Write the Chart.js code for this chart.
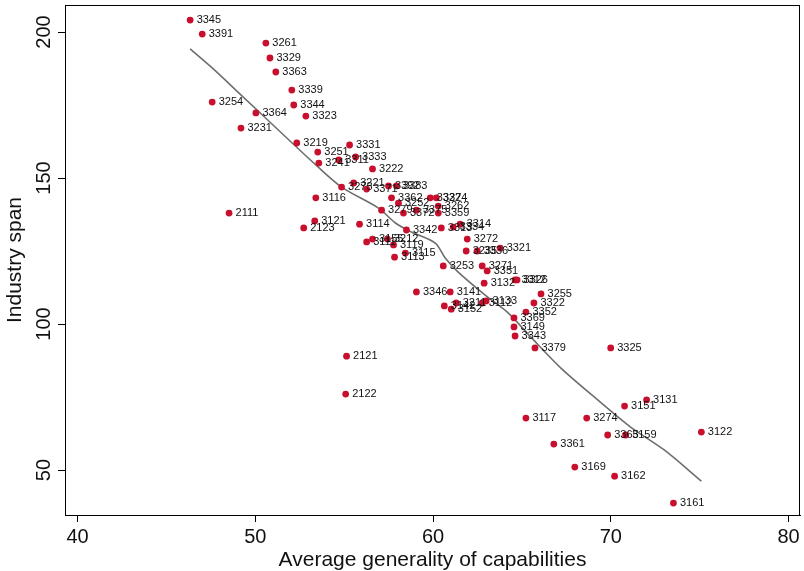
<!DOCTYPE html>
<html>
<head>
<meta charset="utf-8">
<script src="https://cdn.jsdelivr.net/npm/chart.js@4/dist/chart.umd.min.js"></script>
<style>
  html, body { margin: 0; padding: 0; background: #fff; }
  #wrap { width: 804px; height: 571px; }
</style>
</head>
<body>
<div id="wrap"><canvas id="c" width="804" height="571"></canvas></div>
<script>
// Industry codes (point labels)
const codes = ["3345","3391","3261","3329","3363","3339","3344","3323","3254","3364",
  "3231","3219","3331","3251","3333","3311","3241","3222","3221","3273",
  "3371","3392","3383","3116","3362","3252","3279","3372","3375","3327",
  "3324","3262","3359","2111","3121","2123","3114","3342","3313","3334",
  "3314","3272","3235","3336","3321","3111","3155","3212","3119","3115",
  "3113","3253","3271","3351","3132","3312","3326","3346","3141","3255",
  "3142","3211","3152","3112","3133","3322","3352","3369","3149","3343",
  "3379","3325","2121","2122","3131","3151","3117","3274","3365","3159",
  "3122","3361","3169","3162","3161"];
// Average generality of capabilities
const generality = [46.33,47.01,50.59,50.82,51.15,52.05,52.16,52.84,47.57,50.03,
  49.19,52.33,55.30,53.51,55.64,54.69,53.57,56.59,55.53,54.85,
  56.26,57.49,57.94,53.40,57.66,58.05,57.10,58.33,59.06,59.84,
  60.18,60.29,60.29,48.52,53.34,52.72,55.86,58.50,60.46,61.13,
  61.52,61.92,61.86,62.48,63.77,56.26,56.59,57.43,57.77,58.44,
  57.83,60.57,62.76,63.04,62.87,64.61,64.72,59.06,60.96,66.07,
  60.63,61.30,61.02,62.76,62.98,65.67,65.22,64.55,64.55,64.61,
  65.73,69.99,55.13,55.08,72.01,70.77,65.22,68.64,69.82,70.83,
  75.09,66.79,67.97,70.21,73.52];
// Industry span
const span = [204.1,199.3,196.2,191.1,186.3,180.1,175.0,171.2,176.0,172.3,
  167.1,162.0,161.3,158.9,157.2,156.2,155.1,153.1,148.3,146.9,
  146.2,147.3,147.3,143.2,143.2,141.4,139.0,138.0,139.0,143.2,
  143.2,140.4,138.0,138.0,135.3,132.9,134.2,132.2,132.9,133.2,
  134.2,129.1,125.0,125.0,126.0,128.1,129.1,129.1,127.1,124.3,
  122.9,119.9,119.9,118.2,114.0,115.1,115.1,111.0,111.0,110.3,
  106.2,107.2,105.1,107.2,107.9,107.2,104.1,102.1,99.0,95.9,
  91.8,91.8,89.0,76.0,74.0,71.9,67.8,67.8,62.0,62.0,
  63.0,58.9,51.0,47.9,38.7];
// Smoothed fit line
const fitX = [46.33,47.57,49.08,51.77,53.40,54.85,56.93,57.88,58.78,60.12,60.68,61.41,62.93,64.22,65.50,67.19,69.26,71.11,73.02,75.09];
const fitY = [194.2,187.7,179.1,163.7,154.5,146.9,139.7,134.6,131.5,127.7,122.6,117.8,109.9,103.8,95.5,84.9,74.0,64.7,56.8,46.2];
// Axis ticks
const xTicks = [40,50,60,70,80];
const yTicks = [50,100,150,200];

const pts = generality.map((x, i) => ({ x: x, y: span[i] }));
const fit = fitX.map((x, i) => ({ x: x, y: fitY[i] }));

const FONT = "'Liberation Sans', Arial, sans-serif";

const labelPlugin = {
  id: 'pointLabels',
  afterDatasetsDraw(chart) {
    const ctx = chart.ctx;
    const meta = chart.getDatasetMeta(1);
    ctx.save();
    ctx.font = "11px " + FONT;
    ctx.fillStyle = '#111';
    ctx.textAlign = 'left';
    ctx.textBaseline = 'middle';
    meta.data.forEach((el, i) => {
      ctx.fillText(codes[i], el.x + 6.5, el.y);
    });
    ctx.restore();
  }
};

const framePlugin = {
  id: 'frame',
  afterDraw(chart) {
    const a = chart.chartArea;
    const ctx = chart.ctx;
    ctx.save();
    ctx.strokeStyle = '#000';
    ctx.lineWidth = 1;
    ctx.strokeRect(Math.round(a.left) + 0.5, Math.round(a.top) + 0.5,
      Math.round(a.right - a.left) - 1, Math.round(a.bottom - a.top));
    ctx.restore();
  }
};

new Chart(document.getElementById('c'), {
  type: 'scatter',
  data: {
    datasets: [
      {
        type: 'line',
        data: fit,
        showLine: true,
        borderColor: '#6e6e6e',
        borderWidth: 1.6,
        pointRadius: 0,
        fill: false,
        tension: 0.3,
        order: 2
      },
      {
        data: pts,
        backgroundColor: '#c8102e',
        borderColor: '#c8102e',
        borderWidth: 0,
        pointRadius: 3.4,
        order: 1
      }
    ]
  },
  options: {
    responsive: false,
    animation: false,
    layout: { padding: { top: 5, right: 1, left: 0, bottom: 0 } },
    plugins: { legend: { display: false }, tooltip: { enabled: false } },
    scales: {
      x: {
        type: 'linear',
        min: 39.29,
        max: 80.64,
        afterBuildTicks: s => { s.ticks = xTicks.map(v => ({ value: v })); },
        afterFit: s => { s.height = 56; s.paddingLeft = 0; s.paddingRight = 0; },
        grid: { display: true, drawOnChartArea: false, drawTicks: true, tickLength: 7, color: '#000' },
        border: { display: true, color: '#000', width: 1 },
        ticks: { color: '#111', font: { family: FONT, size: 20 }, padding: 3, maxRotation: 0, minRotation: 0 },
        title: { display: true, text: 'Average generality of capabilities', color: '#111',
                 font: { family: FONT, size: 21 }, padding: { top: 0, bottom: -2 } }
      },
      y: {
        type: 'linear',
        min: 34.6,
        max: 209.25,
        afterBuildTicks: s => { s.ticks = yTicks.map(v => ({ value: v })); },
        afterFit: s => { s.width = 65; s.paddingTop = 0; s.paddingBottom = 0; },
        grid: { display: true, drawOnChartArea: false, drawTicks: true, tickLength: 7, color: '#000' },
        border: { display: true, color: '#000', width: 1 },
        ticks: { color: '#111', font: { family: FONT, size: 20 }, padding: -3,
                 minRotation: 90, maxRotation: 90, crossAlign: 'center' },
        title: { display: true, text: 'Industry span', color: '#111',
                 font: { family: FONT, size: 21 }, padding: { top: 3, bottom: 0 } }
      }
    }
  },
  plugins: [labelPlugin, framePlugin]
});
</script>
</body>
</html>
